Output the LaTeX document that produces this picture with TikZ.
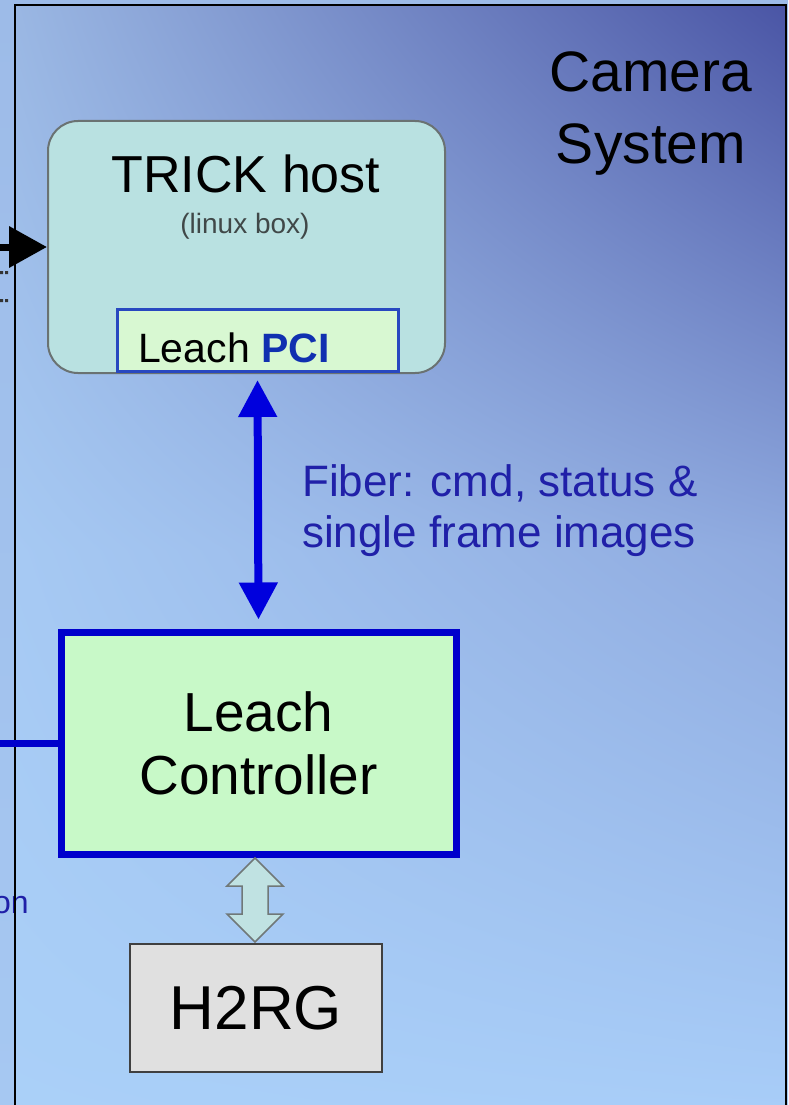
\documentclass[tikz,border=0pt]{standalone}
\usepackage{fontspec}
\setmainfont{Liberation Sans}
\usetikzlibrary{arrows.meta,calc,shadings}
\definecolor{bgtopl}{HTML}{9AB7E3}
\definecolor{bgtopr}{HTML}{4A55A5}
\definecolor{bgmidl}{HTML}{A6C9F3}
\definecolor{bgmidr}{HTML}{8FAADF}
\definecolor{bgbotl}{HTML}{AAD0F8}
\definecolor{bgbotr}{HTML}{A8CDF8}
\definecolor{outtop}{HTML}{9DBBE8}
\definecolor{outbot}{HTML}{A6C8F2}
\definecolor{trickfill}{HTML}{B9E1E1}
\definecolor{trickline}{HTML}{6A7272}
\definecolor{pcifill}{HTML}{D8F8D2}
\definecolor{pciline}{HTML}{2848C0}
\definecolor{pciblue}{HTML}{1030B0}
\definecolor{ctrlfill}{HTML}{C8F9C8}
\definecolor{ctrlline}{HTML}{0000CC}
\definecolor{fiberblue}{HTML}{0000DD}
\definecolor{fibertext}{HTML}{2020A8}
\definecolor{h2fill}{HTML}{E0E0E0}
\definecolor{h2line}{HTML}{404040}
\definecolor{hollowfill}{HTML}{C0E2E2}
\definecolor{hollowline}{HTML}{707878}
\definecolor{subtext}{HTML}{404848}
\tikzset{
  trickbox/.style={draw=trickline, line width=2pt, fill=trickfill, rounded corners=30pt},
  pcibox/.style={draw=pciline, line width=3pt, fill=pcifill},
  ctrlbox/.style={draw=ctrlline, line width=7pt, fill=ctrlfill, align=center,
    font=\fontsize{55}{63}\selectfont},
  h2box/.style={draw=h2line, line width=2pt, fill=h2fill, font=\fontsize{62}{70}\selectfont},
  fiberarrow/.style={draw=fiberblue, line width=8pt,
    {Triangle[length=37pt,width=37pt]}-{Triangle[length=37pt,width=37pt]}},
  blackarrow/.style={draw=black, line width=7pt, -{Triangle[length=38pt,width=40pt]}},
  blueline/.style={draw=ctrlline, line width=7pt},
  hollow/.style={draw=hollowline, line width=1.5pt, fill=hollowfill, line join=miter},
  plain/.style={inner sep=0pt}
}
\begin{document}
\begin{tikzpicture}[x=1pt,y=-1pt]
\useasboundingbox (0,0) rectangle (788,1105);
% outside background
\shade[top color=outtop, bottom color=outbot] (0,0) rectangle (788,1105);
% frame interior
\shade[upper left=bgtopl, upper right=bgtopr, lower left=bgmidl, lower right=bgmidr] (15,5) rectangle (786,550);
\shade[upper left=bgmidl, upper right=bgmidr, lower left=bgbotl, lower right=bgbotr] (15,550) rectangle (786,1110);

% cut-off text at left
\node[plain, anchor=base east, text=fibertext, font=\fontsize{32}{38}\selectfont] (ontext) at (29,913) {on};
\fill[black!80] (0,271) rectangle (3,274) (5,271) rectangle (8,274);
\fill[black!80] (0,299) rectangle (3,302) (5,299) rectangle (8,302);

% frame
\draw[line width=2pt] (15,1110) -- (15,5) -- (786,5) -- (786,1110);

% Camera System
\node[plain, align=center, font=\fontsize{57}{72}\selectfont] (camera) at (651,114) {Camera\\System};

% TRICK host
\node[trickbox, minimum width=397pt, minimum height=252pt] (trick) at (246.5,247) {};
\node[plain, anchor=base, font=\fontsize{52}{60}\selectfont] (tricktext) at (246,192) {TRICK host};
\node[plain, anchor=base, text=subtext, font=\fontsize{28}{32}\selectfont] (linux) at (245,233) {(linux box)};

% Leach PCI
\node[pcibox, minimum width=281pt, minimum height=62pt] (pci) at (257.5,340.5) {};
\node[plain, anchor=base west, font=\fontsize{41}{48}\selectfont] (pcitext) at (138,362) {Leach \textcolor{pciblue}{\textbf{PCI}}};

% Leach Controller
\node[ctrlbox, minimum width=395pt, minimum height=222pt] (ctrl) at (258.5,743) {Leach\\Controller};

% H2RG
\node[h2box, minimum width=252pt, minimum height=128pt] (h2rg) at (256,1008) {H2RG};

% fiber arrow
\draw[fiberarrow, shorten <=7pt, shorten >=9pt] (pci.south) -- (ctrl.north);
\node[plain, anchor=west, align=left, text=fibertext, font=\fontsize{44}{51}\selectfont] (fibertxt) at (302,511) {Fiber: cmd, status \&\\single frame images};

% black arrow into TRICK host
\coordinate (leftin) at (0,247);
\draw[blackarrow] (leftin) -- (trick.west);

% blue line into controller
\coordinate (leftctrl) at (0,743);
\draw[blueline] (leftctrl) -- (ctrl.west);

% hollow double arrow
\draw[hollow] (255,858) -- (283,886) -- (268,886) -- (268,914) -- (283,914) -- (255,942)
  -- (227,914) -- (242,914) -- (242,886) -- (227,886) -- cycle;
\end{tikzpicture}
\end{document}
